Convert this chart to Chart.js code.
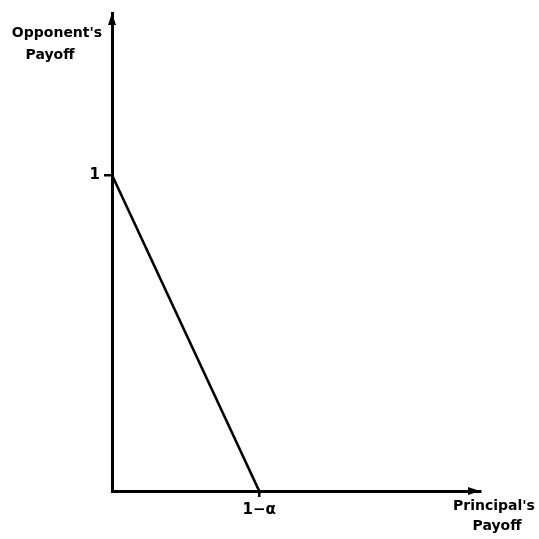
<!DOCTYPE html>
<html>
<head>
<meta charset="utf-8">
<script src="https://cdn.jsdelivr.net/npm/chart.js@4"></script>
<style>
  html, body { margin: 0; padding: 0; background: #fff; }
  canvas { display: block; }
</style>
</head>
<body>
<canvas id="payoff-chart" width="539" height="539"></canvas>
<script>
// frontier: from (0, 1) down to (1 - alpha, 0)
const frontierX = [0, 0.46];
const frontierY = [1, 0];
const xTickValues = [0.46];
const xTickLabels = ['1−α'];
const yTickValues = [1];
const yTickLabels = ['1'];
const axisMax = { x: 1.15, y: 1.5125 };

const FONT = 'bold 14px "DejaVu Sans", sans-serif';

const arrowsAndTitles = {
  id: 'arrowsAndTitles',
  afterDraw(chart) {
    const { ctx, chartArea: a } = chart;
    ctx.save();
    ctx.fillStyle = '#000';
    // arrow heads on both axes
    ctx.beginPath();
    ctx.moveTo(a.left, a.top);
    ctx.lineTo(a.left - 4, a.top + 12);
    ctx.lineTo(a.left + 4, a.top + 12);
    ctx.closePath();
    ctx.fill();
    ctx.beginPath();
    ctx.moveTo(a.right, a.bottom);
    ctx.lineTo(a.right - 12, a.bottom - 4);
    ctx.lineTo(a.right - 12, a.bottom + 4);
    ctx.closePath();
    ctx.fill();

    ctx.font = FONT;
    ctx.textAlign = 'center';
    ctx.textBaseline = 'middle';
    ctx.fillText("Opponent's", 57, 33);
    ctx.fillText('Payoff', 50, 55);
    ctx.fillText("Principal's", 494, 506);
    ctx.fillText('Payoff', 497, 526);
    ctx.restore();
  }
};

const tickFont = { family: '"DejaVu Sans", sans-serif', size: 15, weight: 'bold' };

new Chart(document.getElementById('payoff-chart'), {
  type: 'scatter',
  data: {
    datasets: [{
      data: frontierX.map((x, i) => ({ x, y: frontierY[i] })),
      showLine: true,
      borderColor: '#000',
      borderWidth: 2.6,
      pointRadius: 0,
      fill: false,
    }],
  },
  options: {
    responsive: false,
    animation: false,
    layout: { padding: { top: 7, right: 59, left: 0, bottom: 0 } },
    plugins: { legend: { display: false }, tooltip: { enabled: false } },
    scales: {
      x: {
        type: 'linear',
        min: 0,
        max: axisMax.x,
        afterBuildTicks: s => { s.ticks = xTickValues.map(value => ({ value })); },
        afterFit: s => { s.height = 48; },
        border: { display: true, color: '#000', width: 3 },
        grid: { drawOnChartArea: false, drawTicks: true, tickLength: 6, color: '#000', lineWidth: 2.5 },
        ticks: {
          padding: 4,
          color: '#000',
          font: tickFont,
          callback: v => xTickLabels[xTickValues.indexOf(v)],
          maxRotation: 0,
        },
      },
      y: {
        type: 'linear',
        min: 0,
        max: axisMax.y,
        afterBuildTicks: s => { s.ticks = yTickValues.map(value => ({ value })); },
        afterFit: s => { s.width = 112; },
        border: { display: true, color: '#000', width: 3 },
        grid: { drawOnChartArea: false, drawTicks: true, tickLength: 8, color: '#000', lineWidth: 2.5 },
        ticks: {
          padding: 4,
          color: '#000',
          font: tickFont,
          callback: v => yTickLabels[yTickValues.indexOf(v)],
        },
      },
    },
  },
  plugins: [arrowsAndTitles],
});
</script>
</body>
</html>
